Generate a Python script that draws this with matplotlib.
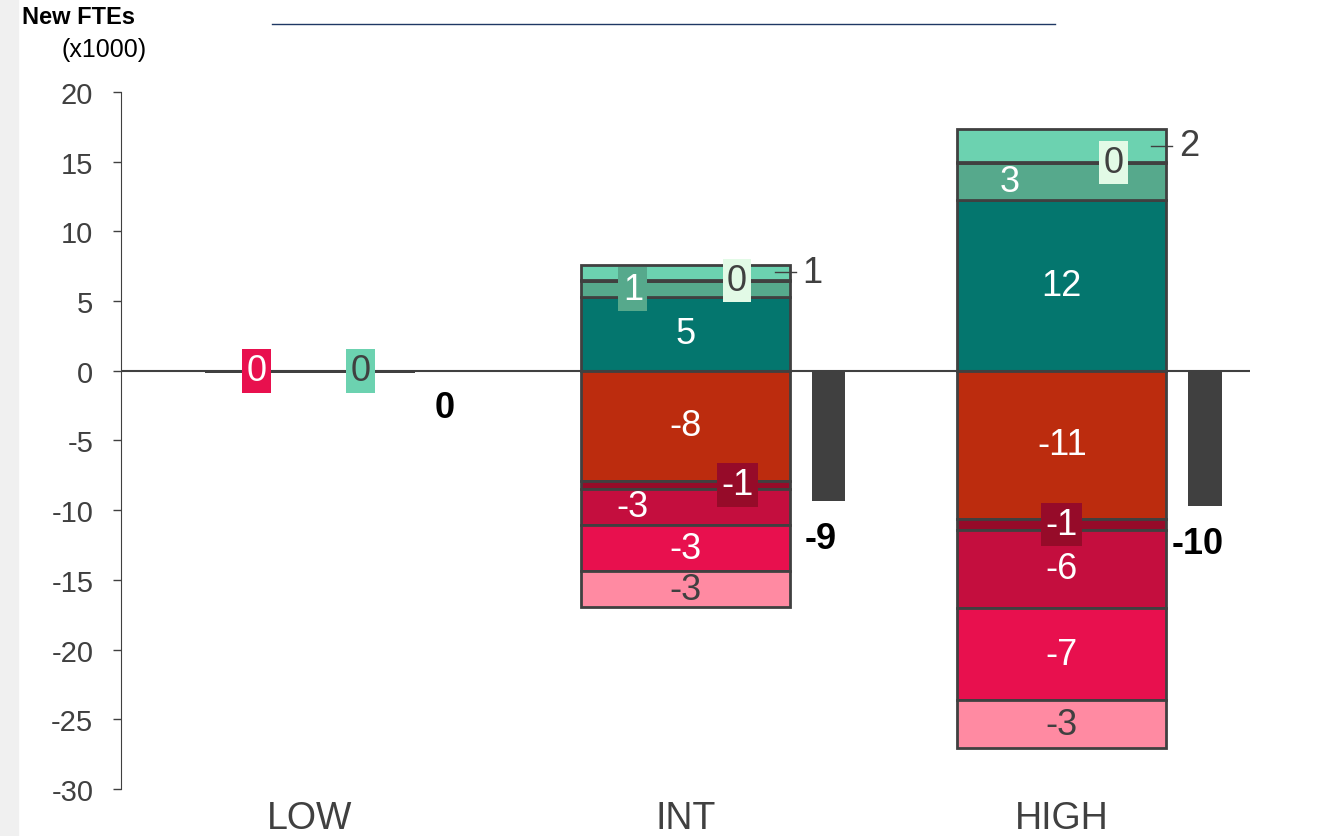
import numpy as np
import matplotlib.pyplot as plt
from matplotlib.patches import Rectangle
from matplotlib.lines import Line2D

plt.rcParams['font.family'] = ['Liberation Sans', 'DejaVu Sans']
plt.rcParams['axes.unicode_minus'] = False

# ---- data (x1000 FTEs) ------------------------------

categories = ["LOW", "INT", "HIGH"]

# job gains, stacked upwards from zero
gain_teal = [0.0, 5.29, 12.25]
gain_mid = [0.0, 1.15, 2.65]
gain_pale = [0.0, 0.05, 0.06]
gain_light = [0.0, 1.13, 2.37]

# job losses, stacked downwards from zero
loss_orange = [0.0, -7.90, -10.63]
loss_dark = [0.0, -0.57, -0.79]
loss_crimson = [0.0, -2.60, -5.60]
loss_red = [0.0, -3.30, -6.60]
loss_pink = [0.0, -2.60, -3.44]

gains = [gain_teal, gain_mid, gain_pale, gain_light]
losses = [loss_orange, loss_dark, loss_crimson, loss_red, loss_pink]
net = np.sum(gains, axis=0) + np.sum(losses, axis=0)

# ---- styling ------------------------------

gain_colors = ["#04766E", "#56A98C", "#E2FAE6", "#6CD2B0"]
gain_text = ["white", "white", "#404040", "#404040"]
loss_colors = ["#BC2C0E", "#960B29", "#C40E3E", "#E8104E", "#FF8AA2"]
loss_text = ["white", "white", "white", "white", "#404040"]
dark = "#404040"

# (series, category, x shift, kind) ; series 0-3 gains, 4-8 losses
label_spots = [
    (7, 0, -0.14, "box"), (3, 0, 0.137, "box"),
    (0, 1, 0.0, "in"), (1, 1, -0.14, "box"), (2, 1, 0.137, "box"),
    (3, 1, 0.0, "out"), (4, 1, 0.0, "in"), (5, 1, 0.137, "box"),
    (6, 1, -0.14, "in"), (7, 1, 0.0, "in"), (8, 1, 0.0, "in"),
    (0, 2, 0.0, "in"), (1, 2, -0.14, "in"), (2, 2, 0.137, "box"),
    (3, 2, 0.0, "out"), (4, 2, 0.0, "in"), (5, 2, 0.0, "box"),
    (6, 2, 0.0, "in"), (7, 2, 0.0, "in"), (8, 2, 0.0, "in"),
]

x = np.arange(len(categories))
width = 0.555
net_shift = 0.38
net_width = 0.09

fig = plt.figure(figsize=(13.2, 8.37), dpi=100)
ax = fig.add_axes([0.0917, 0.0562, 0.8553, 0.8327])

# stacked bars
series_vals = gains + losses
series_colors = gain_colors + loss_colors
series_text = gain_text + loss_text
segments = []
bottom = np.zeros(len(x))
for vals, col in zip(gains, gain_colors):
    ax.bar(x, vals, width, bottom=bottom, color=col, edgecolor=dark,
           linewidth=2, zorder=3)
    segments.append(bottom + np.array(vals) / 2)
    bottom = bottom + np.array(vals)
bottom = np.zeros(len(x))
for vals, col in zip(losses, loss_colors):
    ax.bar(x, vals, width, bottom=bottom, color=col, edgecolor=dark,
           linewidth=2, zorder=3)
    segments.append(bottom + np.array(vals) / 2)
    bottom = bottom + np.array(vals)

# net change bars
ax.bar(x + net_shift, net, net_width, color=dark, edgecolor="none", zorder=3)
for xi, n in zip(x, net):
    ax.annotate(f"{int(round(n))}", (xi + net_shift - 0.02, min(n, 0)),
                xytext=(0, -14), textcoords="offset points", ha="center",
                va="top", fontsize=26, fontweight="bold", color="black")

# segment labels
for s, c, dx, kind in label_spots:
    val = series_vals[s][c]
    txt = f"{int(round(val))}"
    yc = segments[s][c]
    if kind == "out":
        right = x[c] + width / 2
        ax.add_line(Line2D([right - 0.04, right + 0.015], [yc, yc],
                           color=dark, lw=1, zorder=5))
        ax.text(right + 0.06, yc, txt, ha="center", va="center",
                fontsize=26, color=dark, zorder=6)
        continue
    box = None
    if kind == "box":
        box = dict(boxstyle="square,pad=0.12", fc=series_colors[s], ec="none")
    ax.text(x[c] + dx, yc, txt, ha="center", va="center", fontsize=26,
            color=series_text[s], bbox=box, zorder=6)

ax.axhline(0, color=dark, lw=1.5, zorder=4)

ax.set_xlim(-0.5, 2.5)
ax.set_ylim(-30, 20)
ax.set_yticks(np.arange(-30, 21, 5))
ax.set_xticks(x)
ax.set_xticklabels(categories, fontsize=27, color=dark)
ax.tick_params(axis="x", length=0, pad=8)
ax.tick_params(axis="y", labelsize=21, labelcolor=dark, color=dark,
               length=6, width=1, pad=14)
for side in ["top", "right", "bottom"]:
    ax.spines[side].set_visible(False)
ax.spines["left"].set_color(dark)

# header and decorations
fig.patches.append(Rectangle((0, 0), 18 / 1320, 1, transform=fig.transFigure,
                             color="#F0F0F0", zorder=0))
fig.lines.append(Line2D([272 / 1320, 1055 / 1320], [1 - 25 / 837] * 2,
                        transform=fig.transFigure, color="#1F3864", lw=1))
fig.text(22 / 1320, 1 - 18 / 837, "New FTEs", fontsize=17, fontweight="bold",
         va="center", ha="left", color="black")
fig.text(147 / 1320, 1 - 50 / 837, "(x1000)", fontsize=18, va="center",
         ha="right", color="black")

fig.savefig("out.png", dpi=100)
